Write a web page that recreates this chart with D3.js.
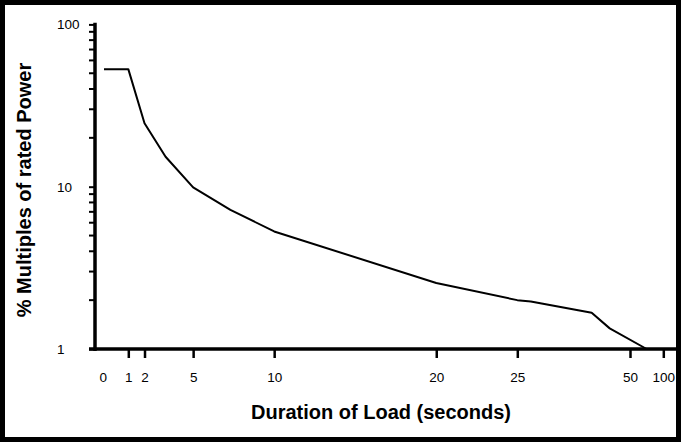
<!DOCTYPE html>
<html><head><meta charset="utf-8">
<script src="https://cdn.jsdelivr.net/npm/d3@7"></script>
<style>body{margin:0;background:#fff}svg{display:block}</style></head><body>
<svg id="c" width="681" height="442"></svg>
<script>
const durations = [0, 1, 2, 3.3, 5, 7.3, 10, 20, 25, 28, 41.5, 45.5, 75];
const multiples = [53, 53, 24.6, 15.3, 9.9, 7.2, 5.3, 2.55, 2.0, 1.96, 1.67, 1.34, 1.0];
const xTickValues = [0, 1, 2, 5, 10, 20, 25, 50, 100];
const yTickValues = [1, 10, 100];
const yMinorTicks = [2, 3, 4, 5, 6, 7, 8, 9, 20, 30, 40, 50, 60, 70, 80, 90];
const xTitle = "Duration of Load (seconds)";
const yTitle = "% Multiples of rated Power";

const FONT = "Liberation Sans, Arial, sans-serif";
const svg = d3.select("#c");

// broken (piecewise) x scale, log y scale
const x = d3.scaleLinear().domain([0, 1, 25, 50, 100]).range([104, 128.3, 517.3, 630, 663.3]);
const y = d3.scaleLog().domain([1, 100]).range([349, 24.4]);

// frame
svg.append("rect").attr("x", 2.5).attr("y", 2.5).attr("width", 676).attr("height", 437)
  .attr("fill", "none").attr("stroke", "#000").attr("stroke-width", 5);

// y axis
const yAxis = svg.append("g").attr("transform", "translate(95,0)")
  .call(d3.axisLeft(y).tickValues(yTickValues).tickFormat(d3.format("d")).tickSize(6).tickSizeOuter(0));
yAxis.select(".domain").remove();
yAxis.selectAll(".tick line").attr("stroke-width", 2);
yAxis.selectAll(".tick text").attr("text-anchor", "start").attr("x", -38)
  .style("font-family", FONT).style("font-size", "13.5px").attr("fill", "#000");
yAxis.selectAll(".minor").data(yMinorTicks).enter().append("line")
  .attr("x1", -6).attr("x2", 0).attr("y1", d => y(d)).attr("y2", d => y(d))
  .attr("stroke", "#000").attr("stroke-width", 2);
svg.append("line").attr("x1", 95).attr("x2", 95).attr("y1", y(100) - 1.7).attr("y2", y(1) + 2)
  .attr("stroke", "#000").attr("stroke-width", 3.5);

// x axis
const xAxis = svg.append("g").attr("transform", "translate(0,349)")
  .call(d3.axisBottom(x).tickValues(xTickValues).tickFormat(d3.format("d")).tickSize(9).tickPadding(14).tickSizeOuter(0));
xAxis.select(".domain").remove();
xAxis.selectAll(".tick line").attr("stroke-width", 2.5).attr("display", d => d === 0 ? "none" : null);
xAxis.selectAll(".tick text").style("font-family", FONT).style("font-size", "13.5px").attr("fill", "#000")
  .attr("dx", d => d === 0 ? -1.3 : 0);
svg.append("line").attr("x1", x(0) - 15).attr("x2", 677).attr("y1", y(1)).attr("y2", y(1))
  .attr("stroke", "#000").attr("stroke-width", 3.5);

// curve
const pts = durations.map((d, i) => [d, multiples[i]]);
svg.append("path").datum(pts)
  .attr("d", d3.line().x(d => x(d[0])).y(d => y(d[1])))
  .attr("fill", "none").attr("stroke", "#000").attr("stroke-width", 2).attr("stroke-linejoin", "round");

// titles
svg.append("text").attr("x", 381).attr("y", 419).attr("text-anchor", "middle")
  .style("font-family", FONT).style("font-weight", "bold").style("font-size", "20px").text(xTitle);
svg.append("text").attr("transform", "translate(31,190) rotate(-90)").attr("text-anchor", "middle")
  .style("font-family", FONT).style("font-weight", "bold").style("font-size", "20px").text(yTitle);
</script>
</body></html>
